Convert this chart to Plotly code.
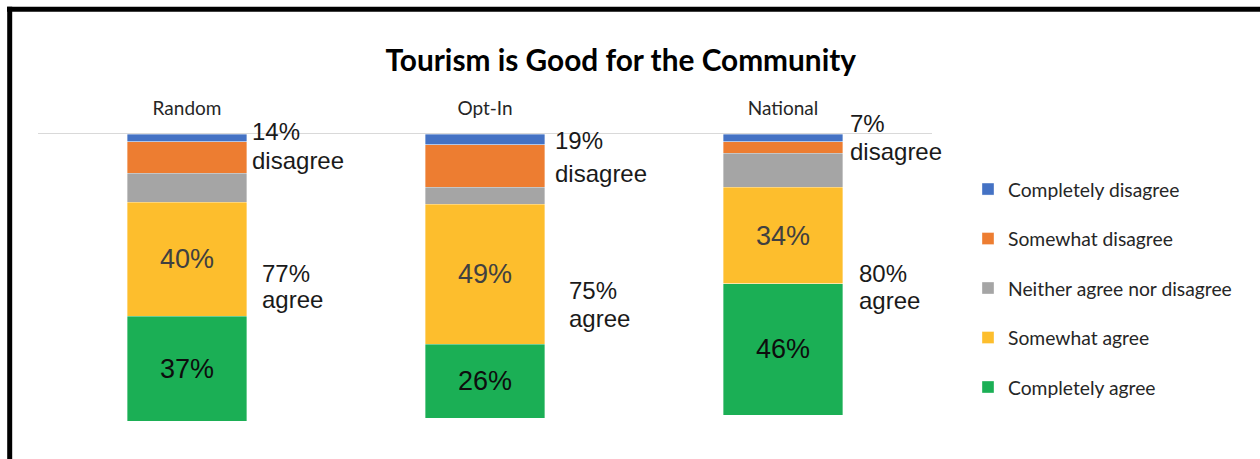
import plotly.graph_objects as go

# ---------------- data ----------------
categories = ["Random", "Opt-In", "National"]
series_names = ["Completely disagree", "Somewhat disagree", "Neither agree nor disagree",
                "Somewhat agree", "Completely agree"]
completely_disagree = [2.7, 3.8, 2.8]
somewhat_disagree = [11.1, 14.9, 4.0]
neither = [10.1, 5.9, 11.9]
somewhat_agree = [40.0, 49.1, 33.9]
completely_agree = [36.8, 26.0, 46.0]
somewhat_agree_labels = ["40%", "49%", "34%"]
completely_agree_labels = ["37%", "26%", "46%"]
disagree_totals = ["14%", "19%", "7%"]
agree_totals = ["77%", "75%", "80%"]

# ---------------- layout constants ----------------
W, H = 1260, 459
ML, MR, MT, MB = 38, 328, 134, 34
PW, PH = W - ML - MR, H - MT - MB
YMAX = 102.1

def px_x(px):
    return (px - ML) / PW

def px_y(py):
    return (H - MB - py) / PH

colors = ["#4472C4", "#ED7D31", "#A5A5A5", "#FDBE2D", "#1BAF55"]
values = [completely_disagree, somewhat_disagree, neither, somewhat_agree, completely_agree]
texts = [None, None, None, somewhat_agree_labels, completely_agree_labels]
text_colors = [None, None, None, "#404040", "#0d0d0d"]

fig = go.Figure()
for i, (name, vals, col) in enumerate(zip(series_names, values, colors)):
    if texts[i] is not None:
        kw = dict(text=texts[i], textposition="inside", insidetextanchor="middle",
                  textangle=0,
                  insidetextfont=dict(family="Liberation Sans, Arial", size=27, color=text_colors[i]))
    else:
        kw = dict(textposition="none")
    fig.add_trace(go.Bar(
        x=categories, y=vals, name=name, legendgroup=name,
        marker=dict(color=col, line=dict(color="rgba(255,255,255,0.6)", width=0.6)),
        hoverinfo="skip", **kw))

ann_font = dict(family="Liberation Sans, Arial", size=24, color="#1a1a1a")
disagree_shift = [63.0, 68.2, 64.5]
disagree_lines = [(131.6, 160.6), (140.9, 173.6), (123.3, 151.6)]
agree_shift = [72.5, 81.5, 74.2]
agree_lines = [(273.9, 299.6), (290.6, 318.3), (273.3, 300.6)]
annotations = []
for i, cat in enumerate(categories):
    for txt, cy in zip([disagree_totals[i], "disagree"], disagree_lines[i]):
        annotations.append(dict(x=cat, xref="x", xanchor="left", xshift=disagree_shift[i],
                                y=px_y(cy), yref="paper", yanchor="middle",
                                text=txt, showarrow=False, font=ann_font))
    for txt, cy in zip([agree_totals[i], "agree"], agree_lines[i]):
        annotations.append(dict(x=cat, xref="x", xanchor="left", xshift=agree_shift[i],
                                y=px_y(cy), yref="paper", yanchor="middle",
                                text=txt, showarrow=False, font=ann_font))

shapes = [
    dict(type="line", xref="paper", yref="paper", x0=px_x(7), x1=px_x(1270),
         y0=px_y(9.3), y1=px_y(9.3), line=dict(color="black", width=5)),
    dict(type="line", xref="paper", yref="paper", x0=px_x(9.7), x1=px_x(9.7),
         y0=px_y(6.8), y1=px_y(470), line=dict(color="black", width=5)),
]

fig.update_layout(
    width=W, height=H,
    margin=dict(l=ML, r=MR, t=MT, b=MB, autoexpand=False),
    paper_bgcolor="white", plot_bgcolor="white",
    barmode="stack", bargap=0.6,
    title=dict(text="<b>Tourism is Good for the Community</b>",
               x=620.8 / W, xanchor="center", y=1 - 61 / H, yanchor="middle",
               font=dict(family="Lato, Open Sans", size=29.8, color="black")),
    xaxis=dict(side="top", showline=True, linecolor="#d9d9d9", linewidth=1,
               range=[-0.5, 2.5],
               showgrid=False, zeroline=False, ticks="", ticklabelstandoff=10,
               tickfont=dict(family="Lato, Open Sans", size=19, color="#262626"),
               fixedrange=True),
    yaxis=dict(range=[YMAX, 0], visible=False, showgrid=False, zeroline=False,
               fixedrange=True),
    legend=dict(x=px_x(968), xanchor="left", y=px_y(170), yanchor="top",
                traceorder="grouped", tracegroupgap=21.4,
                font=dict(family="Lato, Open Sans", size=19.3, color="#262626"),
                bgcolor="rgba(0,0,0,0)"),
    annotations=annotations, shapes=shapes,
    showlegend=True,
)

fig.write_html("out.html")
